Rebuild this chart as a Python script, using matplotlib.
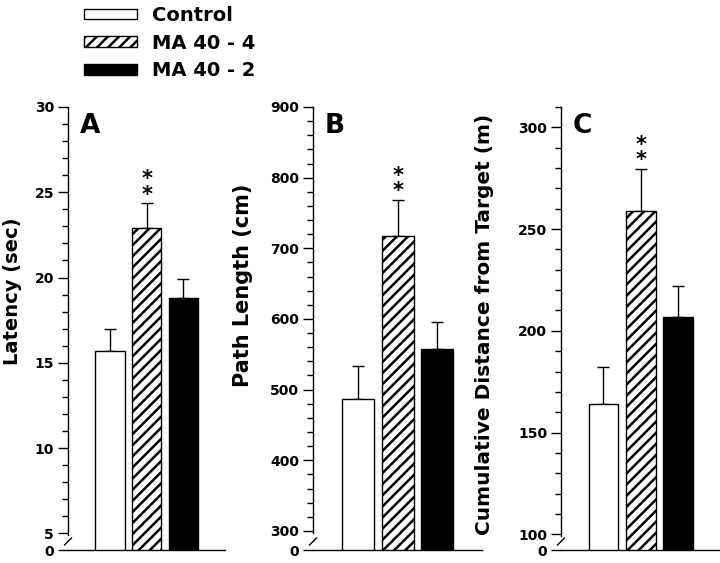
import numpy as np
import matplotlib
matplotlib.use("Agg")
from matplotlib import pyplot as plt
from matplotlib.patches import Patch

plt.rcParams['font.family'] = ['DejaVu Sans']
plt.rcParams['font.weight'] = 'bold'
plt.rcParams['hatch.linewidth'] = 1.8
plt.rcParams['axes.linewidth'] = 1.0

groups = ['Control', 'MA 40 - 4', 'MA 40 - 2']
fills = ['white', 'white', 'black']
hatches = ['', '///', '']

latency = [15.7, 22.9, 18.8]
latency_err = [1.3, 1.45, 1.1]
path_len = [487, 717, 557]
path_err = [46, 51, 39]
cum_dist = [164, 259, 207]
cum_err = [18, 20.5, 15]

panels = [
    # letter, values, errors, ylabel, label size, axis bottom, first tick, top, major, minor
    ('A', latency, latency_err, 'Latency (sec)', 14, 4.02, 5, 30, 5, 1),
    ('B', path_len, path_err, 'Path Length (cm)', 15, 273, 300, 900, 100, 20),
    ('C', cum_dist, cum_err, 'Cumulative Distance from Target (m)', 14.5, 92.3, 100, 310, 50, 10),
]

W, H = 720, 563
fig = plt.figure(figsize=(W / 100, H / 100), dpi=100)

# axes boxes in pixels: left, right, and label anchor (right edge x, centre y)
boxes = [(68, 225, 22, 291), (313, 482, 253, 285), (561, 720, 494, 324)]
top_px, bot_px = 107, 550
xlim = (-1.14, 3.13)

for (letter, vals, errs, ylab, lsize, y0, y1, ytop, major, minor), (l, r, lx, ly) in zip(panels, boxes):
    ax = fig.add_axes([l / W, (H - bot_px) / H, (r - l) / W, (bot_px - top_px) / H])
    x = np.arange(len(vals))
    ax.bar(x, vals, width=0.8, color=fills, hatch=hatches, edgecolor='black',
           linewidth=1.0, zorder=2)
    ax.errorbar(x, vals, yerr=[np.zeros(len(errs)), errs], fmt='none',
                ecolor='black', elinewidth=1.0, capsize=4, capthick=1.0, zorder=1)
    ax.set_xlim(*xlim)
    ax.set_ylim(y0, ytop)

    majors = np.arange(y1, ytop + 1e-9, major)
    ax.set_yticks([y0] + list(majors))
    ax.set_yticklabels(['0'] + [f"{v:g}" for v in majors], fontsize=10, fontweight='bold')
    ax.set_yticks(np.arange(y1, ytop + 1e-9, minor), minor=True)
    ax.tick_params(axis='y', which='major', length=7, width=1.0, pad=3)
    ax.tick_params(axis='y', which='minor', length=4, width=1.0)
    ax.set_xticks([])

    for s in ['top', 'right']:
        ax.spines[s].set_visible(False)
    upp = (ytop - y0) / (bot_px - top_px)
    ax.spines['left'].set_bounds(y1 - 2 * upp, ytop)

    # axis break mark
    wpx = r - l
    hpx = bot_px - top_px
    ax.plot([-3.5 / wpx, 3.5 / wpx], [5 / hpx, 12 / hpx], color='black', lw=1.0,
            transform=ax.transAxes, clip_on=False)

    ax.set_ylabel(ylab, fontsize=lsize, fontweight='bold')
    ax.yaxis.set_label_coords((lx - l) / wpx, (bot_px - ly) / hpx)

    ax.text(12 / wpx, 1 - 6 / hpx, letter, transform=ax.transAxes, fontsize=19,
            fontweight='bold', va='top', ha='left')

    # significance stars over the hatched bar
    ax.annotate('*\n*', xy=(x[1], vals[1] + errs[1]), xytext=(0, 2),
                textcoords='offset points', ha='center', va='baseline',
                fontsize=15, fontweight='bold', linespacing=0.7)

handles = [Patch(facecolor=f, edgecolor='black', hatch=h, linewidth=1.0)
           for f, h in zip(fills, hatches)]
fig.legend(handles, groups, loc='upper left', bbox_to_anchor=(76 / W, 1 + 2 / H),
           frameon=False, handlelength=2.75, handleheight=0.45,
           labelspacing=0.45, handletextpad=0.75, borderaxespad=0,
           prop={'weight': 'bold', 'size': 14})

fig.savefig('out.png', dpi=100)
